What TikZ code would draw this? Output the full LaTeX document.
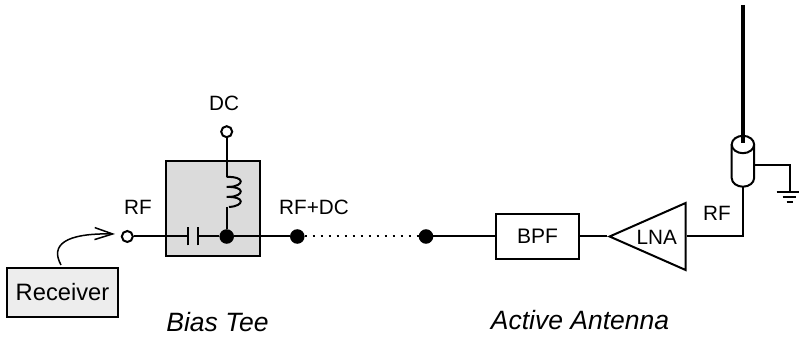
\documentclass[tikz,border=0pt]{standalone}
\usepackage{fontspec}
\setmainfont{Liberation Sans}
\usetikzlibrary{shapes.geometric,arrows.meta}
\definecolor{teegray}{gray}{0.86}
\definecolor{rxgray}{gray}{0.93}
\tikzset{
  label text/.style={inner sep=0pt, font=\fontsize{20.7}{24}\selectfont},
  caption text/.style={inner sep=0pt, font=\fontsize{26.5}{30}\selectfont\itshape},
  open dot/.style={draw, circle, fill=white, minimum size=11pt, inner sep=0pt},
  full dot/.style={draw, circle, fill=black, minimum size=12.5pt, inner sep=0pt},
  block/.style={draw, rectangle, inner sep=0pt, font=\fontsize{21}{24}\selectfont}
}
\begin{document}
\begin{tikzpicture}[x=1pt, y=1pt, line width=2pt]
\useasboundingbox (0,0) rectangle (799,337);
\node[block, fill=teegray, minimum width=94pt, minimum height=95pt] (G1T) at (213,128.7) {};
\node[block, fill=rxgray, minimum width=111pt, minimum height=49pt, font=\fontsize{23.7}{26}\selectfont] (G1R) at (62.5,44.5) {Receiver};
\node[block, minimum width=83.5pt, minimum height=44.5pt] (G1B) at (537.5,100.5) {BPF};
\node[draw, isosceles triangle, isosceles triangle stretches, shape border rotate=180, minimum width=67pt, minimum height=76pt, inner sep=0pt, anchor=apex] (G1L) at (607,100.5) {};
\node[label text] (G1LL) at (656.7,99.5) {LNA};
\node[open dot] (G1D0) at (226.7,205.3) {};
\node[open dot] (G1D1) at (127.3,100.5) {};
\node[full dot] (G1D2) at (226.7,100.5) {};
\node[full dot] (G1D3) at (297.3,100.5) {};
\node[full dot] (G1D4) at (426,100.5) {};
\coordinate (G1C0) at (188,100.5);
\coordinate (G1C1) at (198,100.5);
\coordinate (G1I0) at (226.7,160);
\coordinate (G1I1) at (226.7,130);
\coordinate (G1E0) at (743,100.5);
\coordinate (G1E1) at (743,150.3);
\coordinate (G1A0) at (743,332);
\coordinate (G1A1) at (743,193.7);
\coordinate (G1S0) at (754,172);
\coordinate (G1S1) at (789.5,172);
\coordinate (G1S2) at (789.5,145);
\coordinate (G1W0) at (61,72);
\coordinate (G1W1) at (115,103);
% wires
\draw (G1D1) -- (G1C0);
\draw (G1C1) -- (G1D2);
\draw (G1D2) -- (G1D3);
\draw[dash pattern=on 2pt off 6pt] (G1D3) -- (G1D4);
\draw (G1D4) -- (G1B);
\draw (G1B) -- (G1L.apex);
\draw (G1D0) -- (G1I0);
\draw (G1I1) -- (G1D2);
\foreach \y in {160,150,140} {
  \draw (226.7,\y) .. controls (245,\y+1) and (245,\y-9) .. (229,\y-10);
}
\draw (G1L.east |- G1E0) -- (G1E0) -- (G1E1);
% capacitor
\draw ([yshift=-9pt]G1C0) -- ([yshift=9pt]G1C0);
\draw ([yshift=-9pt]G1C1) -- ([yshift=9pt]G1C1);
% coax
\draw[fill=white] (731.7,192.5) -- (731.7,159) arc[start angle=180, end angle=360, x radius=11.2pt, y radius=8.7pt] -- (754.1,192.5) arc[start angle=0, end angle=180, x radius=11.2pt, y radius=8.7pt];
\draw (731.7,192.5) arc[start angle=180, end angle=360, x radius=11.2pt, y radius=8.7pt];
\draw[line width=3.8pt] (G1A0) -- (G1A1);
% ground
\draw (G1S0) -- (G1S1) -- (G1S2);
\draw ([xshift=-13pt]G1S2) -- ([xshift=9.5pt]G1S2);
\draw ([xshift=-7pt,yshift=-5pt]G1S2) -- ([xshift=6pt,yshift=-5pt]G1S2);
\draw ([xshift=-3pt,yshift=-10pt]G1S2) -- ([xshift=3pt,yshift=-10pt]G1S2);
% receiver link
\draw[-{Straight Barb[length=18pt,width=12pt]}, line width=1.5pt] (G1W0) .. controls (50,92) and (65,104) .. (G1W1);
% labels
\node[label text] (G1LD) at (224,234) {DC};
\node[label text] (G1LR) at (138,130) {RF};
\node[label text] (G1LP) at (314,130) {RF+DC};
\node[label text] (G1LA) at (717,124) {RF};
\node[caption text] (G1LT) at (217.5,15) {Bias Tee};
\node[caption text] (G1LN) at (580,17) {Active Antenna};
\end{tikzpicture}
\end{document}
